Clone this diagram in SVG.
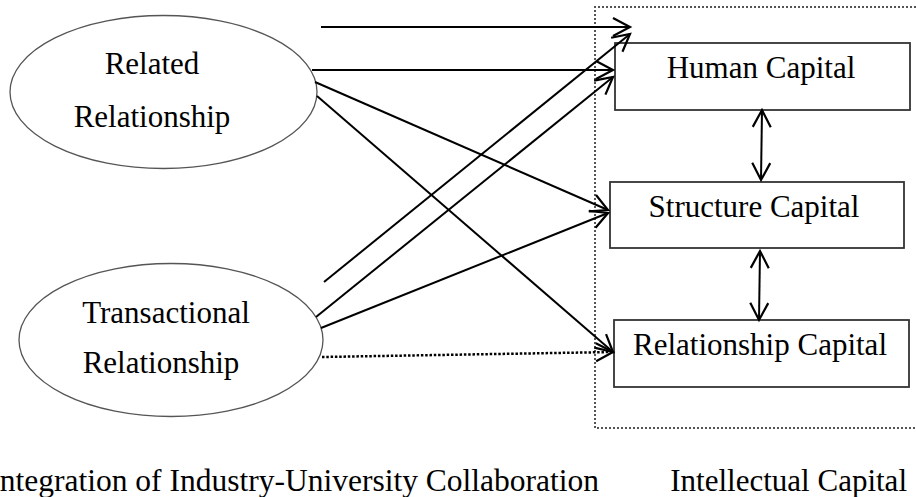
<svg xmlns="http://www.w3.org/2000/svg" width="916" height="497" viewBox="0 0 916 497">
  <style>
    .t { font-family: "Liberation Serif", "Times New Roman", serif; font-size: 31px; fill: #000; }
    .ell { fill: #fff; stroke: #555; stroke-width: 1.3; }
    .box { fill: #fff; stroke: #333; stroke-width: 1.8; }
    .ln { fill: none; stroke: #000; stroke-width: 2; marker-end: url(#ah); }
    .dot { fill: none; stroke: #000; stroke-width: 2.5; stroke-dasharray: 2.5 1.8; marker-end: url(#ah); }
    .dbl { fill: none; stroke: #000; stroke-width: 2; marker-start: url(#ahs); marker-end: url(#ah); }
  </style>
  <defs>
    <marker id="ah" markerUnits="userSpaceOnUse" orient="auto" refX="0" refY="0" markerWidth="24" markerHeight="24" viewBox="-20 -12 24 24" overflow="visible">
      <path d="M-17,-9 L0,0 L-17,9" fill="none" stroke="#000" stroke-width="2.2" stroke-linejoin="miter"/>
    </marker>
    <marker id="ahs" markerUnits="userSpaceOnUse" orient="auto-start-reverse" refX="0" refY="0" markerWidth="24" markerHeight="24" viewBox="-20 -12 24 24" overflow="visible">
      <path d="M-17,-9 L0,0 L-17,9" fill="none" stroke="#000" stroke-width="2.2" stroke-linejoin="miter"/>
    </marker>
  </defs>

  <g id="container">
    <path d="M 920,7 H 595 V 428 H 920" fill="none" stroke="#555" stroke-width="2" stroke-dasharray="2 2"/>
  </g>

  <g id="related">
    <ellipse class="ell" cx="163.5" cy="92" rx="153.5" ry="76.5"/>
    <text class="t" x="152" y="74" text-anchor="middle">Related</text>
    <text class="t" x="152" y="127" text-anchor="middle">Relationship</text>
  </g>

  <g id="transactional">
    <ellipse class="ell" cx="171" cy="340" rx="152" ry="76.5"/>
    <text class="t" x="166" y="323" text-anchor="middle">Transactional</text>
    <text class="t" x="161" y="373" text-anchor="middle">Relationship</text>
  </g>

  <g id="human">
    <rect class="box" x="615" y="43" width="295" height="67"/>
    <text class="t" x="761" y="78" text-anchor="middle">Human Capital</text>
  </g>

  <g id="structure">
    <rect class="box" x="610" y="182" width="294" height="66"/>
    <text class="t" x="754" y="217" text-anchor="middle">Structure Capital</text>
  </g>

  <g id="relcap">
    <rect class="box" x="614" y="320" width="295" height="67"/>
    <text class="t" x="760" y="355" text-anchor="middle">Relationship Capital</text>
  </g>

  <g id="connectors">
    <line class="ln" x1="321" y1="27" x2="630" y2="27"/>
    <line class="ln" x1="324" y1="282" x2="630" y2="34"/>
    <line class="ln" x1="312" y1="70" x2="613" y2="70"/>
    <line class="ln" x1="315" y1="82" x2="608" y2="210"/>
    <line class="ln" x1="317" y1="96" x2="613" y2="352"/>
    <line class="ln" x1="316" y1="317" x2="613" y2="77"/>
    <line class="ln" x1="321" y1="328" x2="608" y2="213"/>
    <line class="dot" x1="322" y1="357" x2="613" y2="352"/>
    <line class="dbl" x1="762" y1="110" x2="761" y2="180"/>
    <line class="dbl" x1="760" y1="251" x2="759" y2="320"/>
  </g>

  <g id="labels">
    <text class="t" x="599" y="491" text-anchor="end" style="font-size:31.5px">ntegration of Industry-University Collaboration</text>
    <text class="t" x="907" y="491" text-anchor="end">Intellectual Capital</text>
  </g>
</svg>
